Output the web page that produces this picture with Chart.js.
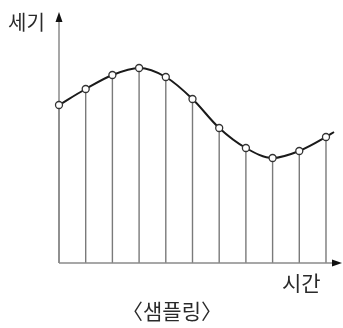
<!DOCTYPE html>
<html>
<head>
<meta charset="utf-8">
<style>
  html, body { margin: 0; padding: 0; background: #fff; }
  #wrap { width: 343px; height: 328px; }
</style>
<script src="https://cdn.jsdelivr.net/npm/chart.js@4/dist/chart.umd.min.js"></script>
</head>
<body>
<div id="wrap"><canvas id="c" width="343" height="328"></canvas></div>
<script>
// Sample instants along the time axis and the signal strength measured at each
const sampleTimes = [0, 1, 2, 3, 4, 5, 6, 7, 8, 9, 10];
const sampleValues = [158, 174, 188, 195, 186, 164, 135, 115, 105, 112, 126];
// The continuous signal runs a little past the last sample
const tailTime = [10.3];
const tailValue = [131];

const yLabel = '세기';
const xLabel = '시간';
const caption = '〈샘플링〉';

const FONT = '"Noto Sans CJK KR", "Noto Sans", sans-serif';

const curvePoints = sampleTimes.map((t, i) => ({ x: t, y: sampleValues[i] }))
  .concat(tailTime.map((t, i) => ({ x: t, y: tailValue[i] })));

// Draws the arrowed axes, the drop lines under every sample and the labels
const samplingDecor = {
  id: 'samplingDecor',
  beforeDatasetsDraw(chart) {
    const { ctx, scales: { x, y } } = chart;
    const x0 = x.getPixelForValue(0);
    const y0 = y.getPixelForValue(0);
    ctx.save();
    // drop lines
    ctx.strokeStyle = '#7a7a7a';
    ctx.lineWidth = 1.4;
    const meta = chart.getDatasetMeta(0);
    meta.data.forEach((pt, i) => {
      if (i >= sampleTimes.length) return;
      ctx.beginPath();
      ctx.moveTo(pt.x, y0);
      ctx.lineTo(pt.x, pt.y);
      ctx.stroke();
    });
    // axes
    ctx.strokeStyle = '#8a8a8a';
    ctx.lineWidth = 1.5;
    ctx.beginPath();
    ctx.moveTo(x0, y0);
    ctx.lineTo(x0, 20);
    ctx.moveTo(x0, y0);
    ctx.lineTo(334, y0);
    ctx.stroke();
    // arrow heads
    ctx.fillStyle = '#111';
    ctx.beginPath();
    ctx.moveTo(x0, 12);
    ctx.lineTo(x0 - 3.5, 22);
    ctx.lineTo(x0 + 3.5, 22);
    ctx.closePath();
    ctx.fill();
    ctx.beginPath();
    ctx.moveTo(342, y0);
    ctx.lineTo(332, y0 - 3.5);
    ctx.lineTo(332, y0 + 3.5);
    ctx.closePath();
    ctx.fill();
    // labels
    ctx.fillStyle = '#2a2a2a';
    ctx.textBaseline = 'middle';
    ctx.textAlign = 'left';
    ctx.font = '20px ' + FONT;
    ctx.fillText(yLabel, 8, 22);
    ctx.font = '21px ' + FONT;
    ctx.fillText(xLabel, 282, 283);
    ctx.textAlign = 'center';
    ctx.fillText(caption, 172, 311);
    ctx.restore();
  }
};

new Chart(document.getElementById('c'), {
  type: 'scatter',
  data: {
    datasets: [{
      data: curvePoints,
      showLine: true,
      tension: 0.4,
      cubicInterpolationMode: 'monotone',
      borderColor: '#1a1a1a',
      borderWidth: 2,
      pointRadius: curvePoints.map((p, i) => i < sampleTimes.length ? 3.5 : 0),
      pointBackgroundColor: '#ffffff',
      pointBorderColor: '#333333',
      pointBorderWidth: 1.3,
      clip: false
    }]
  },
  options: {
    responsive: false,
    animation: false,
    devicePixelRatio: 1,
    layout: { padding: { left: 59, right: 9, top: 13, bottom: 65 } },
    plugins: { legend: { display: false }, tooltip: { enabled: false } },
    scales: {
      x: { type: 'linear', min: 0, max: 10.3, display: false },
      y: { type: 'linear', min: 0, max: 250, display: false }
    }
  },
  plugins: [samplingDecor]
});
</script>
</body>
</html>
